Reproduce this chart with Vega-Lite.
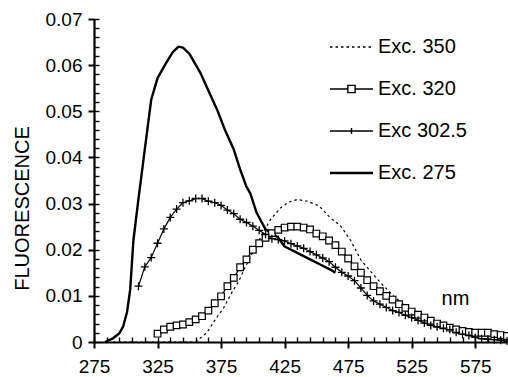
{
  "$schema": "https://vega.github.io/schema/vega-lite/v6.json",
  "width": 413,
  "height": 323,
  "autosize": {"type": "none"},
  "padding": {"left": 94, "top": 19, "right": 1, "bottom": 35},
  "background": "white",
  "config": {
    "view": {"stroke": null},
    "font": "Liberation Sans",
    "axis": {"grid": false, "domainColor": "black", "tickColor": "black", "labelColor": "black", "titleColor": "black", "labelFont": "Liberation Sans", "titleFont": "Liberation Sans"}
  },
  "data": {"values": [
    {"s": "Exc. 275", "nm": 283.7, "f": 0},
    {"s": "Exc. 275", "nm": 290, "f": 0.0008},
    {"s": "Exc. 275", "nm": 295, "f": 0.0019},
    {"s": "Exc. 275", "nm": 298, "f": 0.0034},
    {"s": "Exc. 275", "nm": 301, "f": 0.0065},
    {"s": "Exc. 275", "nm": 303.5, "f": 0.0114},
    {"s": "Exc. 275", "nm": 306, "f": 0.022},
    {"s": "Exc. 275", "nm": 310, "f": 0.031},
    {"s": "Exc. 275", "nm": 315, "f": 0.0418},
    {"s": "Exc. 275", "nm": 320, "f": 0.0525},
    {"s": "Exc. 275", "nm": 325, "f": 0.0572},
    {"s": "Exc. 275", "nm": 332, "f": 0.0606},
    {"s": "Exc. 275", "nm": 337, "f": 0.0628},
    {"s": "Exc. 275", "nm": 341.5, "f": 0.064},
    {"s": "Exc. 275", "nm": 345, "f": 0.0638},
    {"s": "Exc. 275", "nm": 350, "f": 0.0625},
    {"s": "Exc. 275", "nm": 358.6, "f": 0.0584},
    {"s": "Exc. 275", "nm": 365, "f": 0.0545},
    {"s": "Exc. 275", "nm": 371.8, "f": 0.0504},
    {"s": "Exc. 275", "nm": 378, "f": 0.046},
    {"s": "Exc. 275", "nm": 385, "f": 0.0417},
    {"s": "Exc. 275", "nm": 390, "f": 0.0374},
    {"s": "Exc. 275", "nm": 395, "f": 0.0336},
    {"s": "Exc. 275", "nm": 398, "f": 0.0322},
    {"s": "Exc. 275", "nm": 403, "f": 0.028},
    {"s": "Exc. 275", "nm": 410, "f": 0.0244},
    {"s": "Exc. 275", "nm": 415, "f": 0.0236},
    {"s": "Exc. 275", "nm": 420, "f": 0.0226},
    {"s": "Exc. 275", "nm": 425, "f": 0.0207},
    {"s": "Exc. 275", "nm": 435, "f": 0.0193},
    {"s": "Exc. 275", "nm": 445, "f": 0.0179},
    {"s": "Exc. 275", "nm": 453, "f": 0.0168},
    {"s": "Exc. 275", "nm": 461, "f": 0.0157},
    {"s": "Exc. 275", "nm": 465, "f": 0.015},

    {"s": "Exc 302.5", "nm": 310, "f": 0.0121},
    {"s": "Exc 302.5", "nm": 315, "f": 0.0163},
    {"s": "Exc 302.5", "nm": 320, "f": 0.0183},
    {"s": "Exc 302.5", "nm": 325, "f": 0.0214},
    {"s": "Exc 302.5", "nm": 330, "f": 0.0245},
    {"s": "Exc 302.5", "nm": 335, "f": 0.027},
    {"s": "Exc 302.5", "nm": 340, "f": 0.0288},
    {"s": "Exc 302.5", "nm": 345, "f": 0.0302},
    {"s": "Exc 302.5", "nm": 350, "f": 0.0306},
    {"s": "Exc 302.5", "nm": 355, "f": 0.0311},
    {"s": "Exc 302.5", "nm": 360, "f": 0.0311},
    {"s": "Exc 302.5", "nm": 365, "f": 0.0305},
    {"s": "Exc 302.5", "nm": 370, "f": 0.0302},
    {"s": "Exc 302.5", "nm": 375, "f": 0.0296},
    {"s": "Exc 302.5", "nm": 380, "f": 0.0286},
    {"s": "Exc 302.5", "nm": 385, "f": 0.0278},
    {"s": "Exc 302.5", "nm": 390, "f": 0.0266},
    {"s": "Exc 302.5", "nm": 395, "f": 0.0259},
    {"s": "Exc 302.5", "nm": 400, "f": 0.0251},
    {"s": "Exc 302.5", "nm": 405, "f": 0.0242},
    {"s": "Exc 302.5", "nm": 410, "f": 0.0233},
    {"s": "Exc 302.5", "nm": 415, "f": 0.0224},
    {"s": "Exc 302.5", "nm": 420, "f": 0.0222},
    {"s": "Exc 302.5", "nm": 425, "f": 0.0219},
    {"s": "Exc 302.5", "nm": 430, "f": 0.0213},
    {"s": "Exc 302.5", "nm": 435, "f": 0.0208},
    {"s": "Exc 302.5", "nm": 440, "f": 0.0203},
    {"s": "Exc 302.5", "nm": 445, "f": 0.0196},
    {"s": "Exc 302.5", "nm": 450, "f": 0.0189},
    {"s": "Exc 302.5", "nm": 455, "f": 0.0182},
    {"s": "Exc 302.5", "nm": 460, "f": 0.0174},
    {"s": "Exc 302.5", "nm": 465, "f": 0.0162},
    {"s": "Exc 302.5", "nm": 470, "f": 0.0151},
    {"s": "Exc 302.5", "nm": 475, "f": 0.0143},
    {"s": "Exc 302.5", "nm": 480, "f": 0.0133},
    {"s": "Exc 302.5", "nm": 485, "f": 0.0117},
    {"s": "Exc 302.5", "nm": 490, "f": 0.0101},
    {"s": "Exc 302.5", "nm": 495, "f": 0.0089},
    {"s": "Exc 302.5", "nm": 500, "f": 0.0082},
    {"s": "Exc 302.5", "nm": 505, "f": 0.0075},
    {"s": "Exc 302.5", "nm": 510, "f": 0.0068},
    {"s": "Exc 302.5", "nm": 515, "f": 0.0064},
    {"s": "Exc 302.5", "nm": 520, "f": 0.0058},
    {"s": "Exc 302.5", "nm": 525, "f": 0.0053},
    {"s": "Exc 302.5", "nm": 530, "f": 0.0047},
    {"s": "Exc 302.5", "nm": 535, "f": 0.0041},
    {"s": "Exc 302.5", "nm": 540, "f": 0.0036},
    {"s": "Exc 302.5", "nm": 545, "f": 0.0033},
    {"s": "Exc 302.5", "nm": 550, "f": 0.003},
    {"s": "Exc 302.5", "nm": 555, "f": 0.0027},
    {"s": "Exc 302.5", "nm": 560, "f": 0.0021},
    {"s": "Exc 302.5", "nm": 565, "f": 0.0017},
    {"s": "Exc 302.5", "nm": 570, "f": 0.0014},
    {"s": "Exc 302.5", "nm": 575, "f": 0.001},
    {"s": "Exc 302.5", "nm": 580, "f": 0.0007},
    {"s": "Exc 302.5", "nm": 585, "f": 0.0006},
    {"s": "Exc 302.5", "nm": 590, "f": 0.0005},
    {"s": "Exc 302.5", "nm": 595, "f": 0.0004},
    {"s": "Exc 302.5", "nm": 600, "f": 0.0002},

    {"s": "Exc. 320", "nm": 325, "f": 0.0018},
    {"s": "Exc. 320", "nm": 330, "f": 0.0027},
    {"s": "Exc. 320", "nm": 335, "f": 0.0033},
    {"s": "Exc. 320", "nm": 340, "f": 0.0036},
    {"s": "Exc. 320", "nm": 345, "f": 0.0038},
    {"s": "Exc. 320", "nm": 350, "f": 0.0043},
    {"s": "Exc. 320", "nm": 355, "f": 0.0049},
    {"s": "Exc. 320", "nm": 360, "f": 0.0056},
    {"s": "Exc. 320", "nm": 365, "f": 0.0068},
    {"s": "Exc. 320", "nm": 370, "f": 0.0084},
    {"s": "Exc. 320", "nm": 375, "f": 0.0099},
    {"s": "Exc. 320", "nm": 380, "f": 0.0121},
    {"s": "Exc. 320", "nm": 385, "f": 0.0139},
    {"s": "Exc. 320", "nm": 390, "f": 0.0162},
    {"s": "Exc. 320", "nm": 395, "f": 0.0179},
    {"s": "Exc. 320", "nm": 400, "f": 0.02},
    {"s": "Exc. 320", "nm": 405, "f": 0.0214},
    {"s": "Exc. 320", "nm": 410, "f": 0.0226},
    {"s": "Exc. 320", "nm": 415, "f": 0.0236},
    {"s": "Exc. 320", "nm": 420, "f": 0.0243},
    {"s": "Exc. 320", "nm": 425, "f": 0.0248},
    {"s": "Exc. 320", "nm": 430, "f": 0.025},
    {"s": "Exc. 320", "nm": 435, "f": 0.025},
    {"s": "Exc. 320", "nm": 440, "f": 0.0248},
    {"s": "Exc. 320", "nm": 445, "f": 0.0244},
    {"s": "Exc. 320", "nm": 450, "f": 0.0235},
    {"s": "Exc. 320", "nm": 455, "f": 0.0229},
    {"s": "Exc. 320", "nm": 460, "f": 0.022},
    {"s": "Exc. 320", "nm": 465, "f": 0.021},
    {"s": "Exc. 320", "nm": 470, "f": 0.0196},
    {"s": "Exc. 320", "nm": 475, "f": 0.0181},
    {"s": "Exc. 320", "nm": 480, "f": 0.0164},
    {"s": "Exc. 320", "nm": 485, "f": 0.015},
    {"s": "Exc. 320", "nm": 490, "f": 0.0134},
    {"s": "Exc. 320", "nm": 495, "f": 0.0121},
    {"s": "Exc. 320", "nm": 500, "f": 0.011},
    {"s": "Exc. 320", "nm": 505, "f": 0.01},
    {"s": "Exc. 320", "nm": 510, "f": 0.0092},
    {"s": "Exc. 320", "nm": 515, "f": 0.0082},
    {"s": "Exc. 320", "nm": 520, "f": 0.0074},
    {"s": "Exc. 320", "nm": 525, "f": 0.0066},
    {"s": "Exc. 320", "nm": 530, "f": 0.0059},
    {"s": "Exc. 320", "nm": 535, "f": 0.0053},
    {"s": "Exc. 320", "nm": 540, "f": 0.0046},
    {"s": "Exc. 320", "nm": 545, "f": 0.004},
    {"s": "Exc. 320", "nm": 550, "f": 0.0036},
    {"s": "Exc. 320", "nm": 555, "f": 0.0031},
    {"s": "Exc. 320", "nm": 560, "f": 0.0027},
    {"s": "Exc. 320", "nm": 565, "f": 0.0024},
    {"s": "Exc. 320", "nm": 570, "f": 0.0022},
    {"s": "Exc. 320", "nm": 575, "f": 0.002},
    {"s": "Exc. 320", "nm": 580, "f": 0.002},
    {"s": "Exc. 320", "nm": 585, "f": 0.002},
    {"s": "Exc. 320", "nm": 590, "f": 0.0017},
    {"s": "Exc. 320", "nm": 595, "f": 0.0015},
    {"s": "Exc. 320", "nm": 600, "f": 0.0013},

    {"s": "Exc. 350", "nm": 290, "f": 0},
    {"s": "Exc. 350", "nm": 355, "f": 0},
    {"s": "Exc. 350", "nm": 364, "f": 0.0021},
    {"s": "Exc. 350", "nm": 370, "f": 0.0047},
    {"s": "Exc. 350", "nm": 377, "f": 0.0074},
    {"s": "Exc. 350", "nm": 384, "f": 0.011},
    {"s": "Exc. 350", "nm": 389, "f": 0.0132},
    {"s": "Exc. 350", "nm": 393, "f": 0.0157},
    {"s": "Exc. 350", "nm": 400, "f": 0.0195},
    {"s": "Exc. 350", "nm": 407, "f": 0.0232},
    {"s": "Exc. 350", "nm": 414, "f": 0.0266},
    {"s": "Exc. 350", "nm": 422, "f": 0.0291},
    {"s": "Exc. 350", "nm": 428, "f": 0.0303},
    {"s": "Exc. 350", "nm": 435, "f": 0.0309},
    {"s": "Exc. 350", "nm": 443, "f": 0.0305},
    {"s": "Exc. 350", "nm": 452, "f": 0.0295},
    {"s": "Exc. 350", "nm": 461, "f": 0.0269},
    {"s": "Exc. 350", "nm": 469, "f": 0.0252},
    {"s": "Exc. 350", "nm": 477, "f": 0.022},
    {"s": "Exc. 350", "nm": 485, "f": 0.0178},
    {"s": "Exc. 350", "nm": 493, "f": 0.0152},
    {"s": "Exc. 350", "nm": 501, "f": 0.0127},
    {"s": "Exc. 350", "nm": 511, "f": 0.0099},
    {"s": "Exc. 350", "nm": 522, "f": 0.0074},
    {"s": "Exc. 350", "nm": 532, "f": 0.006},
    {"s": "Exc. 350", "nm": 545, "f": 0.0042},
    {"s": "Exc. 350", "nm": 560, "f": 0.003},
    {"s": "Exc. 350", "nm": 580, "f": 0.0023},
    {"s": "Exc. 350", "nm": 600, "f": 0.0015}
  ]},
  "resolve": {"axis": {"x": "independent", "y": "independent"}},
  "layer": [
    {
      "transform": [{"filter": "datum.s !== 'Exc. 275'"}],
      "mark": {"type": "line", "strokeJoin": "round", "color": "black", "strokeWidth": 1.2},
      "encoding": {
        "x": {"field": "nm", "type": "quantitative", "scale": {"domain": [275, 600], "nice": false, "zero": false},
          "axis": {"orient": "bottom", "values": [275, 325, 375, 425, 475, 525, 575], "tickSize": 6, "tickWidth": 2, "domainWidth": 2.2, "domainColor": "black", "tickColor": "black",
            "labelFontSize": 19, "labelPadding": 9, "labelFlush": false, "labelColor": "black",
            "title": "nm", "titleFontSize": 20, "titleFontWeight": "normal", "titleX": 361, "titleY": -44, "titleAlign": "center", "titleBaseline": "middle", "titleAnchor": null}},
        "y": {"field": "f", "type": "quantitative", "scale": {"domain": [0, 0.07], "nice": false},
          "axis": {"orient": "left", "values": [0, 0.01, 0.02, 0.03, 0.04, 0.05, 0.06, 0.07], "format": ".2~f", "tickSize": 6, "tickWidth": 2, "domainWidth": 2.2, "domainColor": "black", "tickColor": "black",
            "labelFontSize": 19, "labelPadding": 6, "labelFlush": false, "labelColor": "black",
            "title": "FLUORESCENCE", "titleFontSize": 20, "titleFontWeight": "normal", "titleAngle": 270, "titleX": -72, "titleY": 189, "titleAlign": "center", "titleBaseline": "middle", "titleAnchor": null}},
        "strokeDash": {"field": "s", "type": "nominal",
          "scale": {"domain": ["Exc. 350", "Exc. 320", "Exc 302.5", "Exc. 275"], "range": [[2.5, 3], [1, 0], [1, 0], [1, 0]]},
          "legend": {"orient": "none", "legendX": 247.5, "legendY": 18, "title": null, "direction": "vertical",
            "labelFontSize": 20, "labelFont": "Liberation Sans", "labelColor": "black", "labelOffset": 16.5,
            "symbolSize": 1849, "symbolStrokeColor": "black", "rowPadding": 22, "padding": 0,
            "encode": {"symbols": {"update": {
              "shape": {"signal": "datum.value === 'Exc. 320' ? 'M-1,0H-0.17M0.17,0H1M-0.17,-0.17H0.17V0.17H-0.17Z' : (datum.value === 'Exc 302.5' ? 'M-1,0H1M0,-0.14V0.14' : 'M-1,0H1')"},
              "strokeDash": {"signal": "datum.value === 'Exc. 350' ? [1.5, 3.5] : [1, 0]"},
              "strokeWidth": {"signal": "datum.value === 'Exc. 275' ? 2.4 : 1.4"},
              "stroke": {"value": "black"},
              "fill": {"value": "white"}
            }}}}}
      }
    },
    {
      "transform": [{"filter": "datum.s === 'Exc. 275'"}],
      "mark": {"type": "line", "strokeJoin": "round", "color": "black", "strokeWidth": 2.4},
      "encoding": {
        "x": {"field": "nm", "type": "quantitative", "axis": null},
        "y": {"field": "f", "type": "quantitative", "axis": null}
      }
    },
    {
      "transform": [{"filter": "datum.s === 'Exc. 320'"}],
      "mark": {"type": "point", "shape": "square", "filled": true, "fill": "white", "stroke": "black", "strokeWidth": 1.2, "size": 44, "opacity": 1},
      "encoding": {
        "x": {"field": "nm", "type": "quantitative",
          "axis": {"orient": "bottom", "offset": -5, "values": [275, 285, 295, 305, 315, 325, 335, 345, 355, 365, 375, 385, 395, 405, 415, 425, 435, 445, 455, 465, 475, 485, 495, 505, 515, 525, 535, 545, 555, 565, 575, 585, 595], "tickSize": 5, "tickWidth": 1.4, "tickColor": "black", "labels": false, "domain": false, "title": null}},
        "y": {"field": "f", "type": "quantitative",
          "axis": {"orient": "left", "offset": -5, "values": [0, 0.002, 0.004, 0.006, 0.008, 0.01, 0.012, 0.014, 0.016, 0.018, 0.02, 0.022, 0.024, 0.026, 0.028, 0.03, 0.032, 0.034, 0.036, 0.038, 0.04, 0.042, 0.044, 0.046, 0.048, 0.05, 0.052, 0.054, 0.056, 0.058, 0.06, 0.062, 0.064, 0.066, 0.068, 0.07], "tickSize": 5, "tickWidth": 1.4, "tickColor": "black", "labels": false, "domain": false, "title": null}}
      }
    },
    {
      "transform": [{"filter": "datum.s === 'Exc 302.5'"}],
      "mark": {"type": "point", "shape": "M-1,0H1M0,-1V1", "filled": false, "stroke": "black", "strokeWidth": 1.3, "size": 64, "opacity": 1},
      "encoding": {
        "x": {"field": "nm", "type": "quantitative", "axis": null},
        "y": {"field": "f", "type": "quantitative", "axis": null}
      }
    }
  ]
}
